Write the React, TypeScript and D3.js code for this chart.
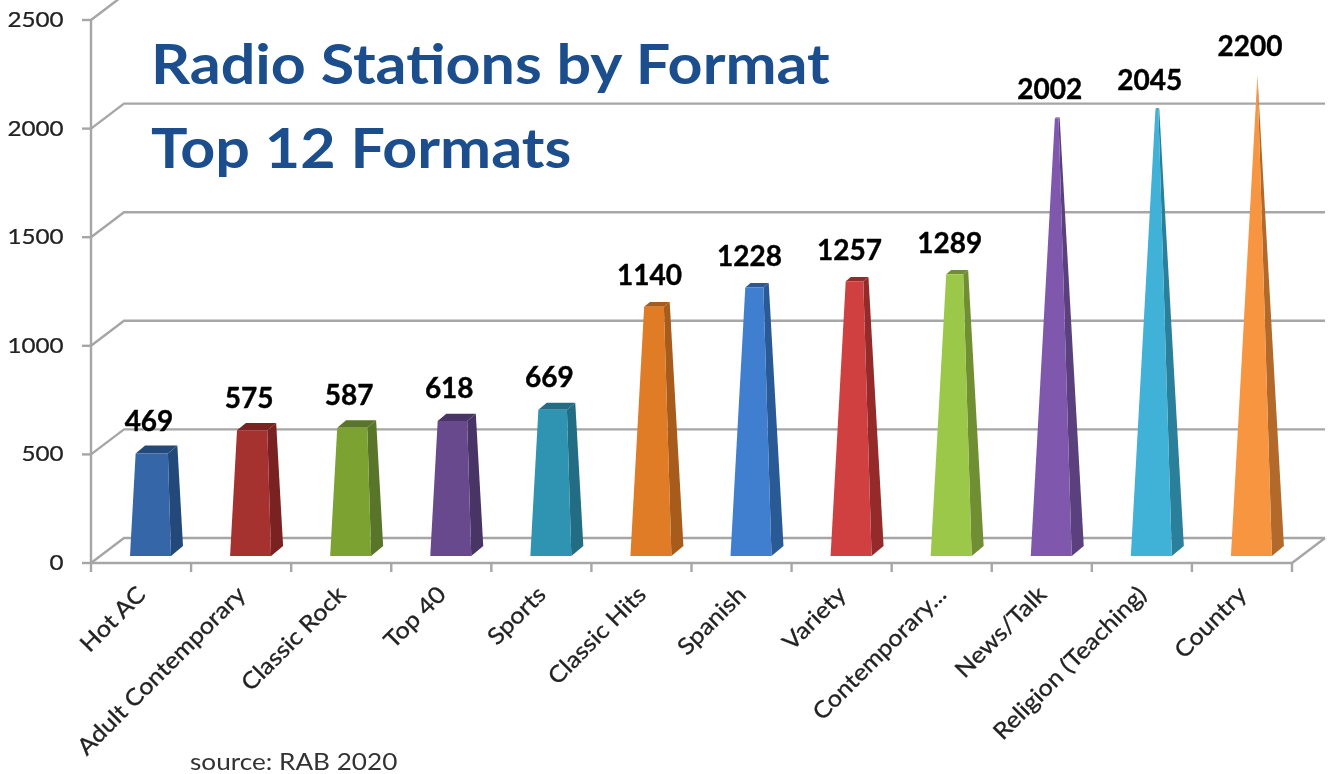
import React from "react";
import * as d3 from "d3";

const categories = ["Hot AC","Adult Contemporary","Classic Rock","Top 40","Sports","Classic Hits","Spanish","Variety","Contemporary...","News/Talk","Religion (Teaching)","Country"];
const values = [469,575,587,618,669,1140,1228,1257,1289,2002,2045,2200];
const frontColors = ["#3566a8","#a5302e","#7ca233","#694a8e","#2f94b1","#e07b27","#3f7fd0","#d04040","#9cc84a","#7f59ad","#3fb2d8","#f79540"];
const sideColors = ["#24497a","#7a2220","#58752a","#493465","#216d83","#a85b1c","#2a5a96","#952c2c","#6f8e33","#5a3f7d","#2a7f9b","#b3692a"];
const yTicks = [0,500,1000,1500,2000,2500];
const titleLines = ["Radio Stations by Format","Top 12 Formats"];
const source = "source: RAB 2020";
const font = "Lato, 'Open Sans', sans-serif";
const grid = "#a6a6a6";

export default function App() {
  const y = d3.scaleLinear().domain([0,2500]).range([563,20]);
  const x = d3.scaleLinear().domain([0,12]).range([91,1292]);
  const dx = 33, dy = -25;
  const barY = d3.scaleLinear().domain([0,2200]).range([551,75]);
  const line = d3.line();
  const bars = values.map((v,i)=>{
    const l = x(i)+39, w = 41, sx = 12, sy = -10;
    const base = { fl:[l,556], fr:[l+w,556], br:[l+w+sx,556+sy], bl:[l+sx,556+sy] };
    const apex:[number,number] = [l+(w+sx)/2, barY(2200)];
    const t = v/2200;
    const up = (p:number[]):[number,number] => [p[0]+(apex[0]-p[0])*t, p[1]+(apex[1]-p[1])*t];
    const top = { fl:up(base.fl), fr:up(base.fr), br:up(base.br), bl:up(base.bl) };
    return {
      i, v, front:[base.fl,base.fr,top.fr,top.fl], side:[base.fr,base.br,top.br,top.fr], lid:[top.fl,top.fr,top.br,top.bl],
      lx: apex[0]-7.5, ly: barY(v)-19,
    };
  });
  return (
    <svg width={1331} height={774} style={{position:"fixed",left:0,top:0,background:"#fff"}} fontFamily={font}>
      <defs><filter id="soft" x="-5%" y="-5%" width="110%" height="110%"><feGaussianBlur stdDeviation="0.5"/></filter></defs>
      <g filter="url(#soft)">
        <g stroke={grid} strokeWidth={2.4} fill="none">
          {yTicks.map(t=>(
            <path key={t} d={line([[91,y(t)],[91+dx,y(t)+dy],[1325,y(t)+dy]] as any)!}/>
          ))}
          <line x1={91} x2={91} y1={y(2500)} y2={y(0)}/>
          <path d={line([[91,y(0)],[1292,y(0)],[1325,y(0)+dy]] as any)!}/>
          {yTicks.map(t=><line key={t} x1={82} x2={91} y1={y(t)} y2={y(t)}/>)}
          {d3.range(13).map(i=><line key={i} x1={x(i)} x2={x(i)} y1={563} y2={572}/>)}
        </g>
        {bars.map(b=>(
          <g key={b.i}>
            <polygon points={b.side.join(" ")} fill={sideColors[b.i]}/>
            <polygon points={b.lid.join(" ")} fill={sideColors[b.i]}/>
            <polygon points={b.front.join(" ")} fill={frontColors[b.i]}/>
          </g>
        ))}
        {yTicks.map(t=>(
          <text key={t} transform={`translate(63.5,${y(t)+7}) scale(1.1,1)`} textAnchor="end" fontSize={22} fill="#222" stroke="#222" strokeWidth={0.25}>{t}</text>
        ))}
        {categories.map((c,i)=>{
          const cx = x(i)+56, cy = 596;
          return <text key={c} transform={`translate(${cx},${cy}) rotate(-45) scale(1.1,1)`} textAnchor="end" fontSize={23} fill="#222" stroke="#222" strokeWidth={0.3}>{c}</text>;
        })}
        {bars.map(b=>(
          <text key={b.i} x={b.lx} y={b.ly} textAnchor="middle" fontSize={28} fontWeight={700} fill="#000" stroke="#000" strokeWidth={0.4}>{b.v}</text>
        ))}
        {titleLines.map((t,i)=>(
          <text key={t} transform={`translate(151,${84+i*84}) scale(1.09,1)`} fontSize={56} fontWeight={700} fill="#1a4e8d">{t}</text>
        ))}
        <text transform="translate(190,770) scale(1.09,1)" fontSize={24} fill="#333">{source}</text>
      </g>
    </svg>
  );
}
